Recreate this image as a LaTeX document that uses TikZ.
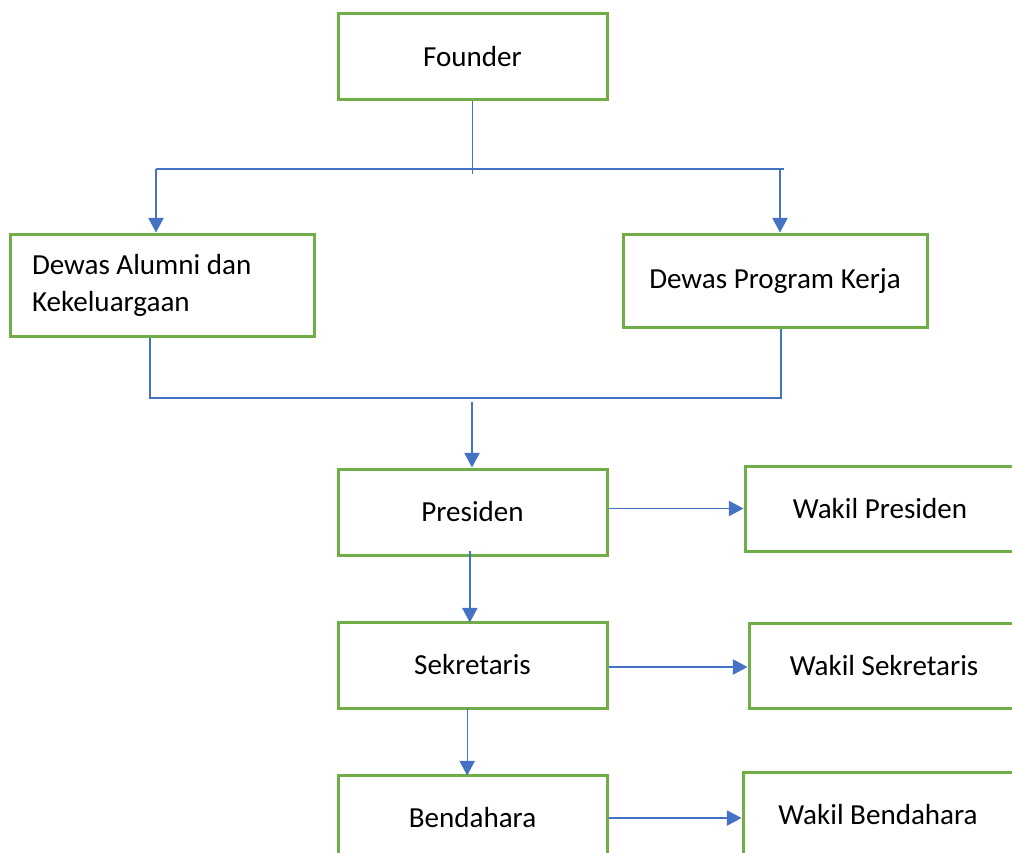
\documentclass[tikz,border=0pt]{standalone}
\usepackage{fontspec}
\setmainfont{Carlito}
\usepackage{tikz}
\usetikzlibrary{arrows.meta}

\definecolor{boxgreen}{RGB}{112,173,71}
\definecolor{linkblue}{RGB}{68,114,196}

\tikzset{
  box/.style={draw=boxgreen, line width=2.25pt, inner sep=0pt, minimum width=201.75pt, minimum height=64.5pt, font=\fontsize{21.8}{27.75}\selectfont},
  link/.style={draw=linkblue, line width=1pt},
  arrow/.style={link, -{Triangle[length=11pt,width=11.5pt]}, fill=linkblue},
}

\begin{document}
\begin{tikzpicture}[x=0.75pt,y=0.75pt,yscale=-1,xscale=1]
\clip (0,0) rectangle (1012,852);

%Shape: Rectangle
\node [box] (founder) at (472.5,57) {Founder};
%Shape: Rectangle
\node [box, minimum width=228pt, minimum height=76.5pt, text width=195pt, inner xsep=16.5pt, align=flush left] (alumni) at (162,285) {Dewas Alumni dan\\Kekeluargaan};
%Shape: Rectangle
\node [box, minimum width=228pt, minimum height=69.75pt] (program) at (775,280.5) {Dewas Program Kerja};
%Shape: Rectangle
\node [box] (presiden) at (472.5,512) {Presiden};
%Shape: Rectangle
\node [box] (sekretaris) at (472.5,665) {Sekretaris};
%Shape: Rectangle
\node [box] (bendahara) at (472.5,818) {Bendahara};
%Shape: Rectangle
\node [box, minimum width=202.5pt, minimum height=63.75pt] (wpresiden) at (880,508.5) {Wakil Presiden};
%Shape: Rectangle
\node [box, minimum width=202.5pt, minimum height=63.75pt] (wsekretaris) at (884,665.5) {Wakil Sekretaris};
%Shape: Rectangle
\node [box, minimum width=202.5pt, minimum height=63.75pt] (wbendahara) at (878,814.5) {Wakil Bendahara};

\coordinate (forkL) at (156,169);
\coordinate (forkR) at (780,169);
\coordinate (joinL) at (150,398);
\coordinate (joinR) at (781,398);
\coordinate (joinC) at (472,402);

%Straight Lines
\draw [link] (founder.south) -- ++(0,73);
\draw [link] (forkL) -- ([xshift=3pt]forkR);
\draw [arrow] (forkL) -- (forkL |- alumni.north);
\draw [arrow] (forkR) -- (forkR |- program.north);
%Straight Lines
\draw [link] (joinL |- alumni.south) -- (joinL) -- (joinR) -- (joinR |- program.south);
\draw [arrow] (joinC) -- (joinC |- presiden.north);
%Straight Lines
\draw [arrow] (presiden.east |- wpresiden.west) -- (wpresiden.west);
\draw [arrow] ([xshift=-2pt,yshift=-4pt]presiden.south) -- ([xshift=-2pt,yshift=1.5pt]sekretaris.north);
\draw [arrow] ([yshift=1.5pt]sekretaris.east) -- ([yshift=1.5pt]sekretaris.east -| wsekretaris.west);
\draw [arrow] ([xshift=-4pt,yshift=-1.5pt]sekretaris.south) -- ([xshift=-4pt,yshift=1.5pt]bendahara.north);
\draw [arrow] (bendahara.east) -- (bendahara.east -| wbendahara.west);

\end{tikzpicture}
\end{document}
